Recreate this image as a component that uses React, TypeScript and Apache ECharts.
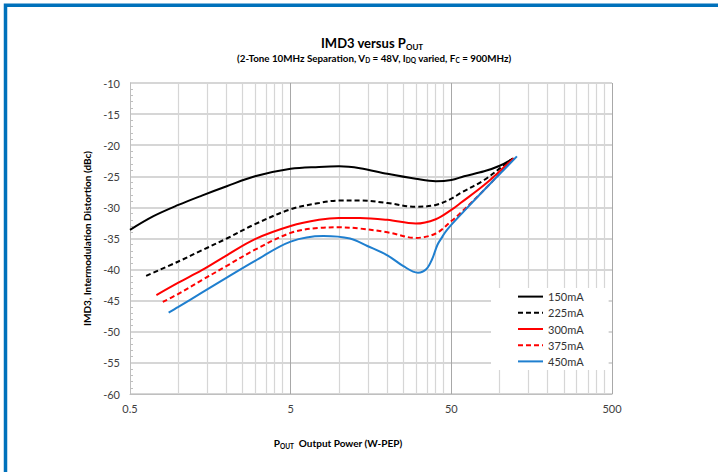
import React, { useEffect, useRef } from "react";
import * as echarts from "echarts";

// Output power (W-PEP) and third-order intermodulation (dBc), per quiescent current
const power150 = [0.5, 0.7, 1, 1.4, 2, 3, 5, 7.5, 10, 13.5, 20, 30, 40, 50, 60, 80, 100, 122];
const imd150 = [-33.6, -31.4, -29.6, -28.1, -26.6, -25.0, -23.8, -23.5, -23.4, -23.7, -24.6, -25.4, -25.8, -25.6, -25.0, -24.2, -23.3, -22.1];

const power225 = [0.63, 1, 1.4, 2, 3, 5, 7.5, 10, 13.5, 20, 30, 40, 50, 57, 80, 110, 120];
const imd225 = [-41.0, -38.7, -36.9, -35.0, -32.7, -30.3, -29.3, -28.9, -28.9, -29.3, -29.9, -29.6, -28.6, -27.7, -25.6, -22.9, -22.2];

const power300 = [0.73, 1, 1.4, 2, 3, 5, 7.5, 10, 13.5, 20, 30, 40, 50, 57, 80, 110, 122];
const imd300 = [-44.1, -42.1, -40.1, -37.7, -35.1, -33.0, -32.0, -31.7, -31.7, -32.0, -32.6, -31.9, -30.4, -29.3, -26.4, -23.2, -22.1];

const power375 = [0.8, 1, 1.4, 2, 3, 5, 7.5, 10, 13.5, 20, 30, 40, 50, 57, 80, 110, 122];
const imd375 = [-45.2, -43.9, -41.7, -39.4, -36.8, -34.1, -33.3, -33.2, -33.4, -34.0, -34.9, -34.2, -32.2, -30.9, -27.2, -23.4, -22.2];

const power450 = [0.87, 1, 1.4, 2, 3, 5, 8, 11.7, 15, 20, 25, 31, 35, 38, 41, 44, 47, 60, 80, 128];
const imd450 = [-46.9, -46.0, -43.7, -41.3, -38.6, -35.5, -34.6, -35.0, -36.2, -37.7, -39.4, -40.5, -39.9, -38.3, -36.0, -34.7, -33.6, -30.6, -27.2, -21.8];

const seriesNames = ["150mA", "225mA", "300mA", "375mA", "450mA"];
const xTickLabels = ["0.5", "5", "50", "500"];

// Lowest power on the axis; the x axis is laid out in decades above it
const X_MIN_POWER = 0.5;
const DECADES = 3;
const toAxis = (p: number) => Math.log10(p / X_MIN_POWER);

const FONT = "Lato, 'Open Sans', sans-serif";

export default function App() {
  const ref = useRef<HTMLDivElement>(null);

  useEffect(() => {
    if (!ref.current) return;
    const chart = echarts.init(ref.current, null, { renderer: "svg" });

    const curves = [
      { p: power150, v: imd150, color: "#000000", type: "solid" },
      { p: power225, v: imd225, color: "#000000", type: [5, 3] },
      { p: power300, v: imd300, color: "#ff0000", type: "solid" },
      { p: power375, v: imd375, color: "#ff0000", type: [5, 3] },
      { p: power450, v: imd450, color: "#1f7fcf", type: "solid" },
    ];

    // log-spaced minor grid lines (2..9 times each decade start)
    const minorLines: { xAxis: number }[] = [];
    for (let d = 0; d < DECADES; d++) {
      for (let k = 2; k <= 9; k++) minorLines.push({ xAxis: d + Math.log10(k) });
    }

    const sub = (size: number, lh: number) => ({
      fontSize: size,
      fontWeight: "bold",
      fontFamily: FONT,
      color: "#000",
      lineHeight: lh,
      verticalAlign: "bottom",
    });
    const main = (size: number, lh: number) => ({
      fontSize: size,
      fontWeight: "bold",
      fontFamily: FONT,
      color: "#000",
      lineHeight: lh,
      verticalAlign: "middle",
    });

    chart.setOption({
      animation: false,
      backgroundColor: "#ffffff",
      grid: { left: 130, right: 106, top: 83, bottom: 78 },
      xAxis: {
        type: "value",
        min: 0,
        max: DECADES,
        interval: 1,
        axisLine: { show: true, lineStyle: { color: "#bfbfbf", width: 1 } },
        axisTick: { show: false },
        axisLabel: {
          color: "#404040",
          fontSize: 11,
          fontFamily: FONT,
          margin: 9,
          formatter: (v: number) => xTickLabels[Math.round(v)] ?? "",
        },
        splitLine: { show: true, lineStyle: { color: "#a8a8a8", width: 1 } },
      },
      yAxis: {
        type: "value",
        min: -60,
        max: -10,
        interval: 5,
        name: "IMD3, Intermodulation Distortion (dBc)",
        nameLocation: "middle",
        nameGap: 21,
        nameTextStyle: { fontSize: 10, fontWeight: "bold", fontFamily: FONT, color: "#000" },
        axisLine: { show: true, lineStyle: { color: "#bfbfbf", width: 1 } },
        axisTick: { show: false, inside: true },
        minorTick: { show: true, splitNumber: 5, length: 3, lineStyle: { color: "#bfbfbf" } },
        axisLabel: { color: "#404040", fontSize: 11, fontFamily: FONT, margin: 10 },
        splitLine: { show: true, lineStyle: { color: "#c8c8c8", width: 1.5 } },
      },
      legend: {
        data: seriesNames,
        orient: "vertical",
        left: 491,
        top: 288,
        padding: [3, 25, 3, 26],
        itemWidth: 25,
        itemHeight: 14,
        itemGap: 5,
        itemStyle: { opacity: 0 },
        backgroundColor: "#ffffff",
        textStyle: { fontSize: 11, fontFamily: FONT, color: "#333" },
        z: 10,
      },
      graphic: [
        {
          type: "rect",
          silent: true,
          shape: { x: 5.5, y: 5.3, width: 900, height: 700 },
          style: { fill: "none", stroke: "#0071bb", lineWidth: 3.5 },
        },
        {
          type: "text",
          x: 372,
          y: 34,
          style: {
            text: "{m|IMD3 versus P}{s|OUT}",
            align: "center",
            rich: { m: main(13, 17), s: sub(8, 9) },
          },
        },
        {
          type: "text",
          x: 374,
          y: 51,
          style: {
            text: "{m|(2-Tone 10MHz Separation, V}{s|D}{m| = 48V, I}{s|DQ}{m| varied, F}{s|C}{m| = 900MHz)}",
            align: "center",
            rich: { m: main(9.8, 13), s: sub(6.5, 7) },
          },
        },
        {
          type: "text",
          x: 338,
          y: 436,
          style: {
            text: "{m|P}{s|OUT}{m|  Output Power (W-PEP)}",
            align: "center",
            rich: { m: main(10, 14), s: sub(6.5, 7) },
          },
        },
      ],
      series: [
        {
          name: "minor-grid",
          type: "line",
          data: [],
          z: 1,
          silent: true,
          markLine: {
            silent: true,
            symbol: ["none", "none"],
            label: { show: false },
            z: 1,
            lineStyle: { color: "#d6d6d6", type: "solid", width: 1.2 },
            data: minorLines,
          },
        },
        ...curves.map((c, i) => ({
          name: seriesNames[i],
          type: "line",
          smooth: 0.35,
          symbol: "none",
          z: 3,
          color: c.color,
          lineStyle: { color: c.color, width: 2, type: c.type },
          data: c.p.map((p, j) => [toAxis(p), c.v[j]]),
        })),
      ],
    });

    return () => chart.dispose();
  }, []);

  return (
    <div
      ref={ref}
      style={{ position: "fixed", left: 0, top: 0, width: 718, height: 472, background: "#fff" }}
    />
  );
}
